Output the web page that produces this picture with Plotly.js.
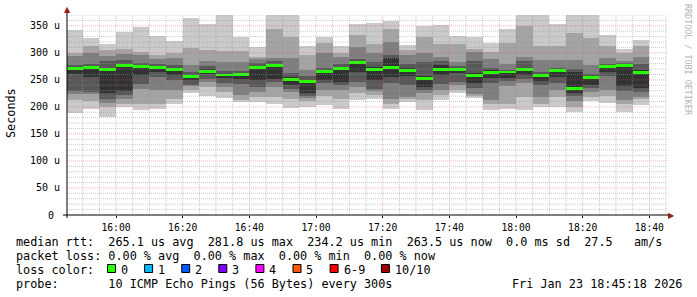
<!DOCTYPE html>
<html><head><meta charset="utf-8">
<script src="https://cdn.plot.ly/plotly-3.0.1.min.js"></script>
<style>
html,body{margin:0;padding:0;background:#fff;}
#chart{width:697px;height:297px;}
</style>
</head><body><div id="chart"></div>
<script>
// ---- data (values in microseconds) ----
const binStart = ['15:45','15:50','15:55','16:00','16:05','16:10','16:15','16:20','16:25','16:30','16:35','16:40','16:45','16:50','16:55','17:00','17:05','17:10','17:15','17:20','17:25','17:30','17:35','17:40','17:45','17:50','17:55','18:00','18:05','18:10','18:15','18:20','18:25','18:30','18:35'];
const ping1  = [188,197,181,200,195,196,206,226,220,217,209,209,205,198,200,203,197,212,214,197,209,194,212,225,216,194,197,194,199,199,191,210,207,191,204];
const ping2  = [213,210,200,206,206,206,214,232,237,228,213,218,218,215,210,220,215,225,222,205,215,213,222,232,220,205,205,219,206,219,200,218,220,205,215];
const ping3  = [223,223,208,215,234,231,231,238,246,237,222,228,237,228,216,231,231,237,230,215,218,226,232,240,224,213,239,244,219,231,210,228,231,213,219];
const ping4  = [230,228,215,222,243,255,249,241,252,244,243,237,246,233,220,245,240,246,234,245,240,231,243,246,235,244,248,252,240,245,220,235,258,230,228];
const ping5  = [261,256,226,230,259,265,259,249,260,253,252,249,252,240,226,249,246,265,249,255,258,237,259,262,245,253,253,259,247,256,226,241,265,238,235];
const ping6  = [274,275,272,280,276,276,271,259,270,261,263,274,279,255,250,269,273,285,274,290,272,258,278,272,263,268,267,272,261,270,265,258,276,280,268];
const ping7  = [278,280,284,286,281,280,278,264,275,266,266,281,284,262,258,272,280,289,283,296,280,283,285,275,284,272,269,284,265,272,270,260,280,282,280];
const ping8  = [294,299,294,298,296,288,290,278,284,283,283,288,290,290,268,299,292,311,299,320,296,300,293,283,302,288,280,293,287,287,287,278,290,284,293];
const ping9  = [299,312,305,308,302,296,299,309,305,303,303,293,345,330,296,319,300,333,317,345,305,330,317,317,307,302,319,349,313,312,336,327,312,299,312];
const ping10 = [343,328,317,339,348,331,322,365,354,374,329,311,372,375,312,330,312,354,356,359,315,350,352,332,329,318,344,378,381,354,390,376,333,307,324];
const median = [271,272.5,270,276,274,273,270,257,266,259,260.5,272.5,276.2,251.5,246.6,266,270.4,281.8,270,273,267,253,269.4,269.4,257.4,263.6,264.5,268.5,257.4,266.7,234.2,254.6,274,277,263.5];

const yTickVals = [0,50,100,150,200,250,300,350];
const yTickText = ['0\u00a0','50 u','100 u','150 u','200 u','250 u','300 u','350 u'];
const legendRtt  = 'median rtt:  265.1 us avg  281.8 us max  234.2 us min  263.5 us now  0.0 ms sd  27.5   am/s';
const legendLoss = 'packet loss: 0.00 % avg  0.00 % max  0.00 % min  0.00 % now';
const lossLabels = ['0','1','2','3','4','5','6-9','10/10'];
const lossColors = ['#26ff00','#00b8ff','#0059ff','#7e00ff','#ff00ff','#ff5500','#ff0000','#a00000'];
const probeText  = 'probe:       10 ICMP Echo Pings (56 Bytes) every 300s';
const dateText   = 'Fri Jan 23 18:45:18 2026';

// ---- geometry ----
const DAY = '2026-01-23 ';
const W = 697, H = 297, L = 67, R = 30, T = 15, B = 82;
const PW = W - L - R, PH = H - T - B;
const px = x => (x - L) / PW;          // pixel -> paper x
const py = y => (H - B - y) / PH;      // pixel -> paper y
const STEP = 300000;
const times = binStart.map(t => DAY + t);
const nb = s => s.replace(/ /g, '\u00a0');
const FONT = 'DejaVu Sans Mono';

// ---- traces ----
const layers = [
  [ping1, ping10, '#cacaca'],
  [ping2, ping9,  '#a4a4a4'],
  [ping3, ping8,  '#7e7e7e'],
  [ping4, ping7,  '#585858'],
  [ping5, ping6,  '#323232']
];
const traces = layers.map(([lo, hi, col]) => ({
  type: 'bar', x: times, base: lo, y: hi.map((h, i) => h - lo[i]),
  width: STEP, offset: 0, marker: {color: col, line: {width: 0}},
  hoverinfo: 'skip', showlegend: false
}));
const MH = 2.7; // half thickness of median band (value units)
traces.push({
  type: 'bar', x: times, base: median.map(m => m - MH), y: median.map(() => 2 * MH),
  width: STEP, offset: 0, marker: {color: lossColors[0], line: {width: 0}},
  hoverinfo: 'skip', showlegend: false
});

// ---- grid (drawn above the smoke, like rrdtool) ----
const shapes = [];
const MIN_C = 'rgba(150,150,150,0.5)', MAJ_C = 'rgba(225,80,80,0.4)';
for (let v = 10; v <= 370; v += 10) {
  shapes.push({type: 'line', layer: 'above', xref: 'paper', yref: 'y', x0: 0, x1: 1, y0: v, y1: v,
    line: {color: v % 50 === 0 ? MAJ_C : MIN_C, width: 1, dash: '1px,1px'}});
}
const pad = n => String(n).padStart(2, '0');
for (let m = 15 * 60 + 50; m <= 18 * 60 + 45; m += 5) {
  const t = DAY + pad(Math.floor(m / 60)) + ':' + pad(m % 60);
  shapes.push({type: 'line', layer: 'above', xref: 'x', yref: 'paper', x0: t, x1: t, y0: 0, y1: 1,
    line: {color: m % 20 === 0 ? MAJ_C : MIN_C, width: 1, dash: '1px,1px'}});
}
// axes
shapes.push({type: 'line', layer: 'above', xref: 'paper', yref: 'paper', x0: px(63), x1: px(669), y0: py(215), y1: py(215), line: {color: '#000', width: 1}});
shapes.push({type: 'line', layer: 'above', xref: 'paper', yref: 'paper', x0: px(67), x1: px(67), y0: py(218), y1: py(11), line: {color: '#000', width: 1}});

// ---- annotations ----
const CW = 7.1;  // monospace char width of legend font
const LF = 11.8;
const ann = [];
const addText = (text, x, y, opts = {}) => ann.push(Object.assign({
  text: nb(text), xref: 'paper', yref: 'paper', x: px(x), y: py(y), xanchor: 'left', yanchor: 'middle',
  showarrow: false, borderpad: 0, borderwidth: 0, font: {family: FONT, size: LF, color: '#000'}
}, opts));
const ARC = '#961a1a';
addText('\u25B2', 67, 9.5, {xanchor: 'center', font: {family: 'DejaVu Sans', size: 8, color: ARC}});
addText('\u25B6', 671.5, 215, {xanchor: 'center', font: {family: 'DejaVu Sans', size: 8, color: ARC}});
addText('Seconds', 11, 113, {xanchor: 'center', textangle: -90});
addText('RRDTOOL / TOBI OETIKER', 688, 60, {xanchor: 'center', textangle: 90, font: {family: FONT, size: 8.4, color: '#b4b4b4'}});
addText(legendRtt, 16, 241.5);
addText(legendLoss, 16, 255.5);
addText('loss color:', 16, 269.5);
let bx = 107.5;
lossLabels.forEach((lab, i) => {
  shapes.push({type: 'rect', layer: 'above', xref: 'paper', yref: 'paper',
    x0: px(bx), x1: px(bx + 8), y0: py(272.5), y1: py(264.5),
    fillcolor: lossColors[i], line: {color: '#000', width: 1}});
  addText(lab, bx + 13.4, 269.5);
  bx = bx + 13.4 + lab.length * CW + 16.6;
});
addText(probeText, 16, 283.5);
addText(dateText, 512, 283.5);

const layout = {
  width: W, height: H, margin: {l: L, r: R, t: T, b: B, pad: 0},
  paper_bgcolor: '#fff', plot_bgcolor: '#fff', barmode: 'overlay', bargap: 0, showlegend: false,
  font: {family: FONT, size: 10, color: '#000'},
  xaxis: {type: 'date', range: [DAY + '15:45:18', DAY + '18:45:18'], tick0: DAY + '16:00', dtick: 1200000,
    tickformat: '%H:%M', showgrid: false, zeroline: false, showline: false,
    ticks: 'outside', ticklen: 2, tickcolor: '#000', ticklabelstandoff: 1,
    tickfont: {family: FONT, size: 9.7, color: '#000'}, fixedrange: true},
  yaxis: {range: [0, 370], tickmode: 'array', tickvals: yTickVals, ticktext: yTickText,
    showgrid: false, zeroline: false, showline: false, ticks: '', ticklabelstandoff: 6,
    tickfont: {family: FONT, size: 10, color: '#000'}, fixedrange: true},
  shapes: shapes, annotations: ann
};
Plotly.newPlot('chart', traces, layout, {staticPlot: true, displayModeBar: false});
</script>
</body></html>
